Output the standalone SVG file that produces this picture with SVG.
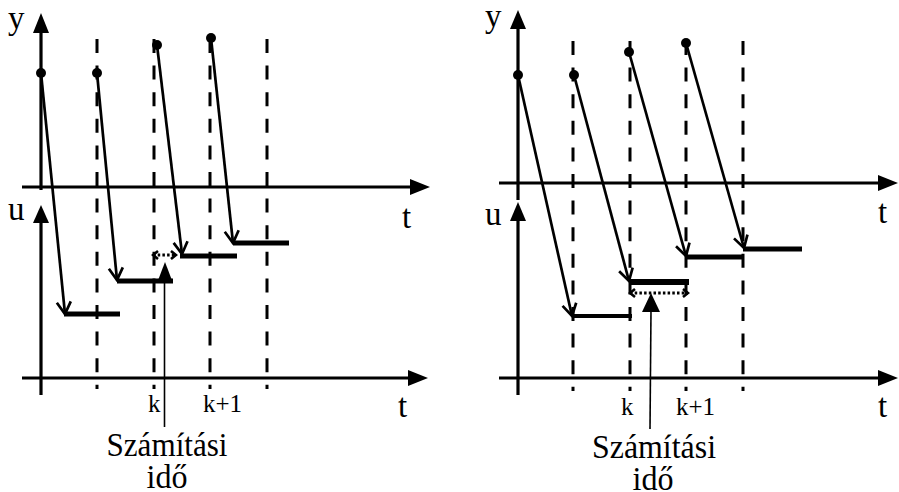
<svg xmlns="http://www.w3.org/2000/svg" width="899" height="492" viewBox="0 0 899 492">
<style>
.axis{stroke:#000;stroke-width:3.2;fill:none}
.head{fill:#000;stroke:none}
.dash{stroke:#000;stroke-width:3;stroke-dasharray:14 12.6;fill:none}
.diag{stroke:#000;stroke-width:2.7;fill:none;marker-end:url(#vee)}
.lvl{stroke:#000;stroke-width:5;fill:none}
.dot{fill:#000}
.dotted{stroke:#000;stroke-width:3;stroke-dasharray:2.5 2.2;fill:none}
.ptr{stroke:#000;stroke-width:1.6;fill:none}
.lab{font-size:33px}
.kl{font-size:25px}
.cap{font-size:34px;text-anchor:middle}
</style>
<defs>
<marker id="vee" viewBox="-14 -9 16 18" refX="0" refY="0" markerWidth="16" markerHeight="18" markerUnits="userSpaceOnUse" orient="auto">
<path d="M-12,-7 L0,0 L-12,7" fill="none" stroke="#000" stroke-width="2.7"/>
</marker>
<marker id="small" viewBox="-8 -6 10 12" refX="0" refY="0" markerWidth="10" markerHeight="12" markerUnits="userSpaceOnUse" orient="auto-start-reverse">
<path d="M-5,-4 L0,0 L-5,4" fill="none" stroke="#000" stroke-width="2.6"/>
</marker>
</defs>

<!-- LEFT PANEL -->
<g id="left-axes">
<line class="axis" x1="41" y1="30" x2="41" y2="190"/>
<polygon class="head" points="41,13 33,33 49,33"/>
<line class="axis" x1="22" y1="187" x2="412" y2="187"/>
<polygon class="head" points="430,187 410,179 410,195"/>
<line class="axis" x1="41" y1="220" x2="41" y2="395"/>
<polygon class="head" points="41,205 33,223 49,223"/>
<line class="axis" x1="22" y1="378" x2="410" y2="378"/>
<polygon class="head" points="428,378 408,370 408,386"/>
<g font-family="'Liberation Serif', 'Times New Roman', 'DejaVu Serif', serif" fill="#000">
<text class="lab" x="8" y="29">y</text>
<text class="lab" x="8" y="220">u</text>
<text class="lab" x="402" y="228">t</text>
<text class="lab" x="398" y="417">t</text>
<text class="kl" x="148" y="412">k</text>
<text class="kl" x="203" y="412">k+1</text>
</g>
</g>
<g id="left-grid">
<line class="dash" x1="97" y1="39" x2="97" y2="389"/>
<line class="dash" x1="154" y1="39" x2="154" y2="389"/>
<line class="dash" x1="210" y1="39" x2="210" y2="389"/>
<line class="dash" x1="267" y1="39" x2="267" y2="389"/>
</g>
<g id="left-samples">
<circle class="dot" cx="41" cy="73" r="5"/>
<circle class="dot" cx="97" cy="73" r="5"/>
<circle class="dot" cx="157" cy="45" r="5"/>
<circle class="dot" cx="211" cy="38" r="5"/>
</g>
<g id="left-levels">
<line class="lvl" x1="64" y1="314" x2="120" y2="314"/>
<line class="lvl" x1="117" y1="281" x2="173" y2="281"/>
<line class="lvl" x1="180" y1="256" x2="237" y2="256"/>
<line class="lvl" x1="233" y1="243" x2="289" y2="243"/>
</g>
<g id="left-connectors">
<line class="diag" x1="41" y1="73" x2="65" y2="314"/>
<line class="diag" x1="97" y1="73" x2="117" y2="280"/>
<line class="diag" x1="157" y1="45" x2="182" y2="254"/>
<line class="diag" x1="211" y1="38" x2="233" y2="243"/>
</g>
<g id="left-computation">
<line class="dotted" x1="153" y1="255" x2="176" y2="255" marker-start="url(#small)" marker-end="url(#small)"/>
<line class="ptr" x1="164.5" y1="280" x2="164.5" y2="427"/>
<polygon class="head" points="165,262 157,283 173,283"/>
<g font-family="'Liberation Serif', 'Times New Roman', 'DejaVu Serif', serif" fill="#000">
<text class="cap" x="167" y="456" textLength="121" lengthAdjust="spacingAndGlyphs">Számítási</text>
<text class="cap" x="167" y="488" textLength="41" lengthAdjust="spacingAndGlyphs">idő</text>
</g>
</g>

<!-- RIGHT PANEL -->
<g id="right-axes">
<line class="axis" x1="518" y1="26" x2="518" y2="200"/>
<polygon class="head" points="518,10 510,29 526,29"/>
<line class="axis" x1="499" y1="183" x2="880" y2="183"/>
<polygon class="head" points="898,183 878,175 878,191"/>
<line class="axis" x1="518" y1="218" x2="518" y2="395"/>
<polygon class="head" points="518,202 510,221 526,221"/>
<line class="axis" x1="499" y1="378" x2="880" y2="378"/>
<polygon class="head" points="898,378 878,370 878,386"/>
<g font-family="'Liberation Serif', 'Times New Roman', 'DejaVu Serif', serif" fill="#000">
<text class="lab" x="485" y="27">y</text>
<text class="lab" x="485" y="225">u</text>
<text class="lab" x="878" y="223">t</text>
<text class="lab" x="878" y="417">t</text>
<text class="kl" x="621" y="415">k</text>
<text class="kl" x="676" y="415">k+1</text>
</g>
</g>
<g id="right-grid">
<line class="dash" x1="573" y1="41" x2="573" y2="391"/>
<line class="dash" x1="630" y1="41" x2="630" y2="391"/>
<line class="dash" x1="686" y1="41" x2="686" y2="391"/>
<line class="dash" x1="743" y1="41" x2="743" y2="391"/>
</g>
<g id="right-samples">
<circle class="dot" cx="518" cy="75" r="5"/>
<circle class="dot" cx="574" cy="75" r="5"/>
<circle class="dot" cx="629" cy="52" r="5"/>
<circle class="dot" cx="686" cy="43" r="5"/>
</g>
<g id="right-levels">
<line class="lvl" x1="572" y1="316" x2="632" y2="316" style="stroke-width:4"/>
<line class="lvl" x1="629" y1="282" x2="689" y2="282" style="stroke-width:6"/>
<line class="lvl" x1="685" y1="257" x2="744" y2="257"/>
<line class="lvl" x1="743" y1="249" x2="802" y2="249"/>
</g>
<g id="right-connectors">
<line class="diag" x1="518" y1="75" x2="572" y2="316"/>
<line class="diag" x1="574" y1="75" x2="629" y2="281"/>
<line class="diag" x1="629" y1="52" x2="686" y2="256"/>
<line class="diag" x1="686" y1="43" x2="744" y2="248"/>
</g>
<g id="right-computation">
<line class="dotted" x1="630" y1="293" x2="688" y2="293" marker-start="url(#small)" marker-end="url(#small)"/>
<line class="ptr" x1="651" y1="310" x2="650" y2="429"/>
<polygon class="head" points="651,293 642,312 660,312"/>
<g font-family="'Liberation Serif', 'Times New Roman', 'DejaVu Serif', serif" fill="#000">
<text class="cap" x="654" y="458" textLength="124" lengthAdjust="spacingAndGlyphs">Számítási</text>
<text class="cap" x="653" y="490" textLength="41" lengthAdjust="spacingAndGlyphs">idő</text>
</g>
</g>
</svg>
